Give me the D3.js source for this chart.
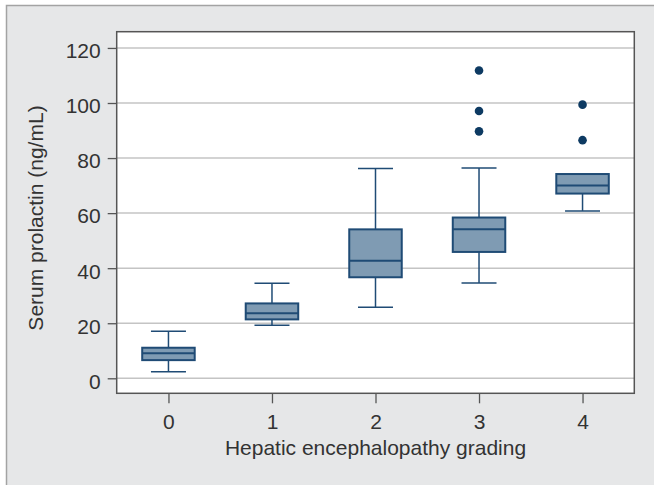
<!DOCTYPE html>
<html>
<head>
<meta charset="utf-8">
<script src="https://cdn.jsdelivr.net/npm/d3@7"></script>
<style>
	body { margin: 0; background: #fff; }
	svg text { font-family: "Liberation Sans", Arial, sans-serif; fill: #333; }
</style>
</head>
<body>
<svg width="654" height="485"></svg>
<script>
// data
let grades = [0, 1, 2, 3, 4]
let lowWhisker = [2.4, 19.3, 25.8, 34.6, 60.8]
let q1 = [6.6, 21.4, 36.7, 45.9, 67.1]
let medians = [9.1, 23.6, 42.7, 54.1, 70.0]
let q3 = [11.1, 27.2, 54.1, 58.4, 74.2]
let highWhisker = [17.1, 34.5, 76.2, 76.4, 74.2]
let outliers = [[], [], [], [111.8, 97.1, 89.7], [99.4, 86.5]]
let yTicks = [0, 20, 40, 60, 80, 100, 120]

let svg = d3.select('svg')
let fontSize = 21

// outer panel
svg.append('rect')
	.attr('x', 6).attr('y', 5)
	.attr('width', 654).attr('height', 485)
	.attr('fill', '#e6e7e8')
svg.append('path')
	.attr('d', 'M6.5,485V5.5H654')
	.attr('fill', 'none')
	.attr('stroke', '#a3a3a3')
	.attr('stroke-width', 1.5)

let plotLeft = 116.7, plotRight = 634.3, plotTop = 31.7, plotBottom = 393.3

let x = d3.scaleLinear().domain([-0.5, 4.5]).range([plotLeft, plotRight])
let y = d3.scaleLinear().domain([-5.45, 125.9]).range([plotBottom, plotTop])

svg.append('rect')
	.attr('x', plotLeft).attr('y', plotTop)
	.attr('width', plotRight - plotLeft).attr('height', plotBottom - plotTop)
	.attr('fill', '#fff')

// grid
svg.append('g')
	.selectAll('line')
	.data(yTicks)
	.join('line')
	.attr('x1', plotLeft).attr('x2', plotRight)
	.attr('y1', d => y(d)).attr('y2', d => y(d))
	.attr('stroke', '#c4c4c4')
	.attr('stroke-width', 1.5)

// axes
let yAxis = svg.append('g')
	.attr('transform', 'translate(' + plotLeft + ',0)')
	.call(d3.axisLeft(y).tickValues(yTicks).tickSize(9).tickPadding(7))
let xAxis = svg.append('g')
	.attr('transform', 'translate(0,' + plotBottom + ')')
	.call(d3.axisBottom(x).tickValues(grades).tickSize(10).tickPadding(11).tickFormat(d3.format('d')))
;[yAxis, xAxis].forEach(a => {
	a.select('.domain').remove()
	a.selectAll('.tick line').attr('stroke', '#555').attr('stroke-width', 1.3)
	a.selectAll('.tick text').attr('font-size', fontSize).attr('fill', '#333')
		.style('font-family', '"Liberation Sans", Arial, sans-serif')
})
yAxis.selectAll('.tick text').attr('dy', '0.47em')

// boxes
let boxW = 52.5, capW = 35
let stroke = '#1f4b75'
let g = svg.append('g')
grades.forEach((gr, i) => {
	let cx = x(gr)
	g.append('line')
		.attr('x1', cx).attr('x2', cx)
		.attr('y1', y(lowWhisker[i])).attr('y2', y(q1[i]))
		.attr('stroke', stroke).attr('stroke-width', 1.5)
	g.append('line')
		.attr('x1', cx).attr('x2', cx)
		.attr('y1', y(q3[i])).attr('y2', y(highWhisker[i]))
		.attr('stroke', stroke).attr('stroke-width', 1.5)
	g.append('line')
		.attr('x1', cx - capW / 2).attr('x2', cx + capW / 2)
		.attr('y1', y(lowWhisker[i])).attr('y2', y(lowWhisker[i]))
		.attr('stroke', stroke).attr('stroke-width', 1.5)
	if (highWhisker[i] > q3[i])
		g.append('line')
			.attr('x1', cx - capW / 2).attr('x2', cx + capW / 2)
			.attr('y1', y(highWhisker[i])).attr('y2', y(highWhisker[i]))
			.attr('stroke', stroke).attr('stroke-width', 1.5)
	g.append('rect')
		.attr('x', cx - boxW / 2).attr('y', y(q3[i]))
		.attr('width', boxW).attr('height', y(q1[i]) - y(q3[i]))
		.attr('fill', '#7f9bb3')
		.attr('stroke', stroke).attr('stroke-width', 2)
	g.append('line')
		.attr('x1', cx - boxW / 2).attr('x2', cx + boxW / 2)
		.attr('y1', y(medians[i])).attr('y2', y(medians[i]))
		.attr('stroke', stroke).attr('stroke-width', 2)
	g.selectAll(null)
		.data(outliers[i])
		.join('circle')
		.attr('cx', cx).attr('cy', d => y(d))
		.attr('r', 4.3)
		.attr('fill', '#0d3a62')
})

// plot frame
svg.append('rect')
	.attr('x', plotLeft).attr('y', plotTop)
	.attr('width', plotRight - plotLeft).attr('height', plotBottom - plotTop)
	.attr('fill', 'none')
	.attr('stroke', '#555')
	.attr('stroke-width', 1.5)

// titles
svg.append('text')
	.attr('x', (plotLeft + plotRight) / 2).attr('y', 455)
	.attr('text-anchor', 'middle')
	.attr('font-size', fontSize)
	.text('Hepatic encephalopathy grading')
svg.append('text')
	.attr('transform', 'translate(43,218) rotate(-90)')
	.attr('text-anchor', 'middle')
	.attr('font-size', fontSize)
	.text('Serum prolactin (ng/mL)')
</script>
</body>
</html>
